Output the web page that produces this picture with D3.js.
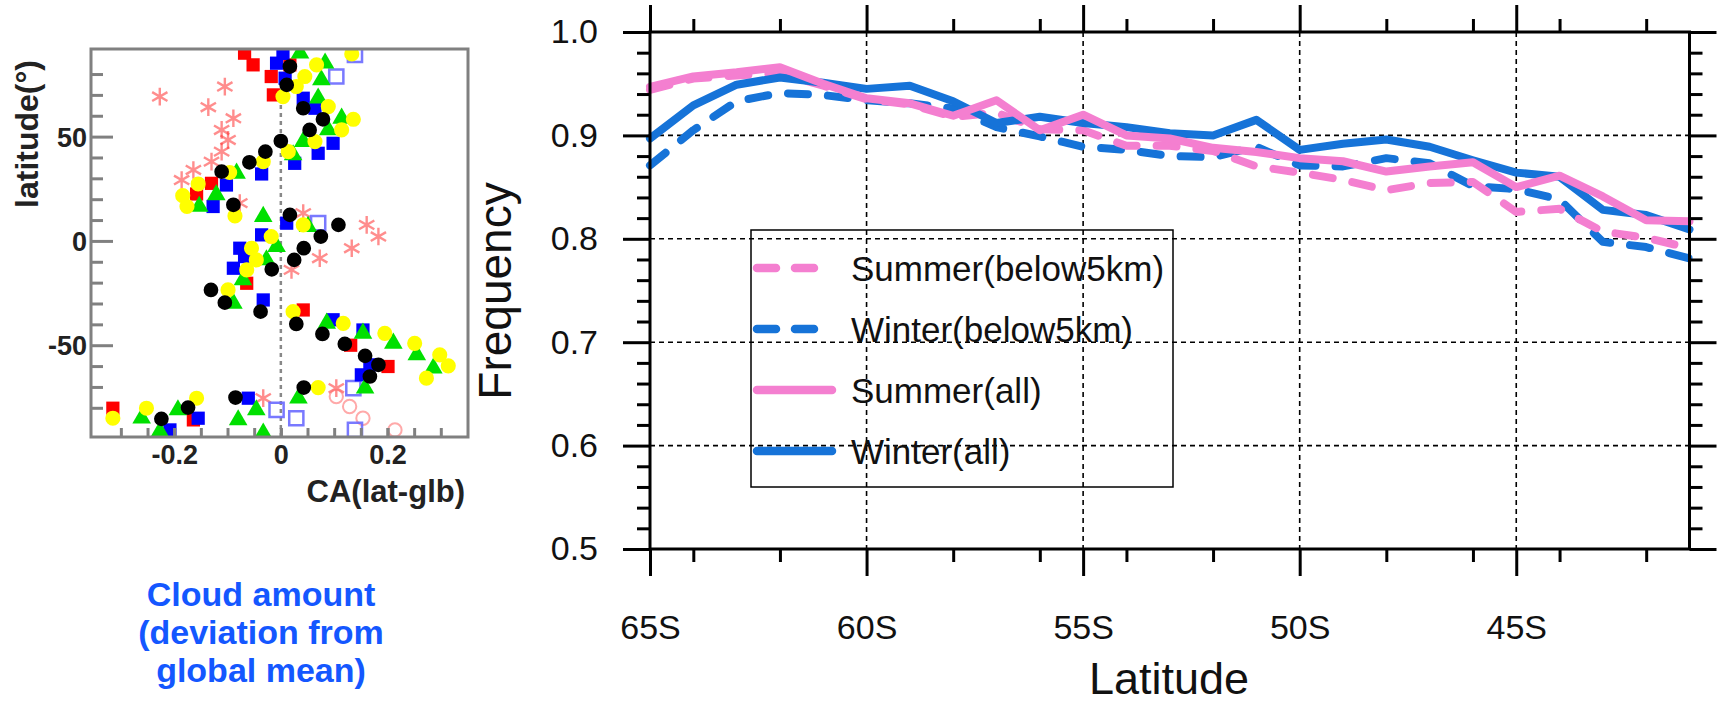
<!DOCTYPE html>
<html><head><meta charset="utf-8">
<script src="https://cdn.jsdelivr.net/npm/d3@7"></script>
<style>
body{margin:0;background:#fff}
svg{display:block}
text{font-family:"Liberation Sans",Arial,Helvetica,sans-serif}
</style>
</head><body>
<svg id="c" width="1727" height="705"></svg>
<script>
// ---------------- Right panel data ----------------
const latitudes = [-65,-64,-63,-62,-61,-60,-59,-58,-57,-56,-55,-54,-53,-52,-51,-50,-49,-48,-47,-46,-45,-44,-43,-42,-41];
const summerBelow5km = [0.944,0.955,0.958,0.960,0.948,0.935,0.930,0.918,0.922,0.906,0.905,0.890,0.890,0.885,0.870,0.864,0.857,0.847,0.854,0.855,0.826,0.829,0.807,0.801,0.791];
const winterBelow5km = [0.871,0.905,0.933,0.941,0.939,0.934,0.931,0.926,0.908,0.899,0.889,0.886,0.880,0.879,0.889,0.871,0.870,0.878,0.873,0.851,0.848,0.838,0.797,0.792,0.781];
const summerAll      = [0.947,0.957,0.961,0.966,0.950,0.936,0.931,0.919,0.934,0.905,0.920,0.900,0.897,0.888,0.884,0.878,0.875,0.865,0.870,0.874,0.850,0.861,0.841,0.818,0.817];
const winterAll      = [0.897,0.929,0.949,0.956,0.951,0.945,0.948,0.933,0.912,0.918,0.912,0.908,0.902,0.900,0.915,0.886,0.892,0.896,0.889,0.876,0.864,0.860,0.828,0.823,0.809];
const latMajorTicks = [-65,-60,-55,-50,-45];
const latTickLabels = ["65S","60S","55S","50S","45S"];
const latMinorTicks = [-64,-62,-58,-56,-54,-52,-48,-46,-44,-42];
const freqMajorTicks = [0.5,0.6,0.7,0.8,0.9,1.0];
const freqTickLabels = ["0.5","0.6","0.7","0.8","0.9","1.0"];
const freqMinorTicks = [0.52,0.54,0.56,0.58,0.62,0.64,0.66,0.68,0.72,0.74,0.76,0.78,0.82,0.84,0.86,0.88,0.92,0.94,0.96,0.98];
const freqGrid = [0.6,0.7,0.8,0.9];
const latGrid = [-60,-55,-50,-45];
const seriesNames = ["Summer(below5km)","Winter(below5km)","Summer(all)","Winter(all)"];

// ---------------- Left panel data (CA deviation, latitude) ----------------
const blackCircles = [[0.017,83.6],[0.011,74.8],[0.042,63.6],[0.079,58.3],[0.054,53.2],[0.000,47.9],[-0.029,42.8],[-0.059,37.7],[-0.111,33.2],[-0.089,17.3],[0.017,12.5],[0.108,7.7],[0.075,2.1],[0.043,-3.5],[0.025,-9.1],[-0.017,-13.6],[-0.131,-23.5],[-0.105,-29.6],[-0.038,-33.9],[0.029,-39.8],[0.078,-44.6],[0.120,-49.4],[0.158,-55.1],[0.183,-59.4],[0.167,-65.0],[0.043,-70.3],[-0.085,-75.1],[-0.174,-79.9],[-0.224,-85.3]];
const yellowCircles = [[0.133,89.6],[0.067,84.4],[0.045,78.8],[0.029,74.0],[0.004,69.2],[0.089,64.4],[0.136,58.3],[0.114,53.2],[0.064,47.6],[0.014,42.8],[-0.033,38.0],[-0.096,32.8],[-0.155,27.3],[-0.184,21.7],[-0.176,16.5],[-0.086,12.0],[0.042,7.7],[-0.018,2.1],[-0.055,-3.5],[-0.046,-9.1],[-0.064,-13.9],[-0.099,-23.5],[0.023,-33.9],[0.117,-39.5],[0.195,-44.3],[0.251,-49.1],[0.298,-54.6],[0.314,-59.9],[0.273,-65.8],[0.070,-70.3],[-0.158,-75.4],[-0.252,-80.2],[-0.315,-85.0]];
const blueSquares = [[0.004,89.9],[-0.008,85.2],[0.008,78.0],[0.042,68.4],[0.064,63.6],[0.098,46.8],[0.070,42.0],[0.026,37.2],[-0.036,32.1],[-0.102,26.8],[-0.127,16.5],[0.011,8.5],[-0.036,2.9],[-0.077,-3.5],[-0.068,-7.5],[-0.089,-13.1],[-0.033,-28.3],[0.098,-37.8],[0.154,-42.7],[0.167,-59.4],[0.151,-64.2],[-0.061,-75.4],[-0.155,-85.0],[-0.208,-90.6]];
const greenTriangles = [[0.036,90.0],[0.083,85.2],[0.076,77.2],[0.070,68.4],[0.114,58.8],[0.089,53.2],[0.042,47.6],[0.023,41.2],[-0.083,32.4],[-0.121,22.1],[-0.153,16.5],[-0.033,11.7],[0.051,6.9],[-0.008,-2.7],[-0.027,-9.1],[-0.071,-18.7],[-0.089,-29.9],[0.086,-39.5],[0.154,-44.3],[0.211,-49.1],[0.255,-54.6],[0.286,-61.0],[0.158,-70.6],[0.033,-75.4],[-0.046,-81.0],[-0.080,-85.8],[-0.193,-81.0],[-0.261,-85.0],[-0.227,-91.4],[-0.033,-92.2]];
const redSquares = [[-0.068,90.0],[-0.052,84.4],[0.017,84.4],[-0.018,78.8],[-0.014,70.0],[-0.130,27.6],[-0.158,22.5],[-0.064,-20.3],[0.042,-33.1],[0.131,-50.0],[0.201,-60.2],[-0.315,-80.2],[-0.164,-85.8]];
const redStars = [[-0.227,69.2],[-0.105,74.0],[-0.136,64.1],[-0.089,58.8],[-0.111,53.2],[-0.099,48.4],[-0.111,42.8],[-0.130,38.0],[-0.164,34.0],[-0.186,29.2],[-0.077,18.1],[0.042,13.3],[0.161,7.7],[0.183,2.1],[0.133,-3.5],[0.073,-8.3],[0.020,-13.9],[-0.033,-75.4],[0.104,-70.6]];
const blueOpenSquares = [[0.139,89.2],[0.104,78.8],[0.070,8.5],[0.136,-70.6],[-0.008,-81.0],[0.029,-85.0],[0.139,-90.6]];
const redOpenCircles = [[0.104,-74.6],[0.129,-79.4],[0.154,-85.0],[0.214,-90.6]];
const caTicks = [-0.3,-0.25,-0.2,-0.15,-0.1,-0.05,0,0.05,0.1,0.15,0.2,0.25,0.3];
const caLabelTicks = [-0.2,0,0.2];
const caTickLabels = ["-0.2","0","0.2"];
const latMinorLeft = [-80,-70,-60,-40,-30,-20,-10,10,20,30,40,60,70,80];
const latMajorLeft = [-50,0,50];
const latLeftLabels = ["-50","0","50"];
const captionLines = ["Cloud amount","(deviation from","global mean)"];

const svg = d3.select("#c");

// ================= LEFT PANEL =================
const xL = d3.scaleLinear().domain([-0.356,0.351]).range([91,468]);
const yL = d3.scaleLinear().domain([-94,92]).range([437,49]);
const gL = svg.append("g");
svg.append("defs").append("clipPath").attr("id","clipL")
  .append("rect").attr("x",91).attr("y",49).attr("width",377).attr("height",388);

gL.append("line").attr("x1",xL(0)).attr("x2",xL(0)).attr("y1",49).attr("y2",437)
  .attr("stroke","#888").attr("stroke-width",2.5).attr("stroke-dasharray","4,4");

const markers = gL.append("g").attr("clip-path","url(#clipL)");
const scatterSeries = [
  {data:redStars, type:d3.symbolAsterisk, size:220, fill:"none", stroke:"#ff3030", sw:2.4, op:0.55},
  {data:redOpenCircles, type:d3.symbolCircle, size:140, fill:"none", stroke:"#ff7070", sw:2, op:0.6},
  {data:blueOpenSquares, type:d3.symbolSquare, size:200, fill:"none", stroke:"#6a6aff", sw:2.5, op:0.9},
  {data:redSquares, type:d3.symbolSquare, size:175, fill:"#ff0000", stroke:"none", sw:0, op:1},
  {data:blueSquares, type:d3.symbolSquare, size:175, fill:"#0000ff", stroke:"none", sw:0, op:1},
  {data:greenTriangles, type:d3.symbolTriangle, size:150, fill:"#00e000", stroke:"none", sw:0, op:1},
  {data:yellowCircles, type:d3.symbolCircle, size:180, fill:"#ffff00", stroke:"none", sw:0, op:1},
  {data:blackCircles, type:d3.symbolCircle, size:170, fill:"#000000", stroke:"none", sw:0, op:1}
];
scatterSeries.forEach(s => {
  markers.selectAll(null).data(s.data).enter().append("path")
    .attr("d", d3.symbol().type(s.type).size(s.size))
    .attr("transform", d => `translate(${xL(d[0])},${yL(d[1])})`)
    .attr("fill", s.fill).attr("stroke", s.stroke).attr("stroke-width", s.sw).attr("opacity", s.op);
});

// left axes
const axL1 = d3.axisLeft(yL).tickValues(latMinorLeft).tickSizeInner(-12).tickSizeOuter(0).tickFormat("");
const axL2 = d3.axisLeft(yL).tickValues(latMajorLeft).tickSizeInner(-22).tickSizeOuter(0).tickPadding(4)
  .tickFormat((d,i) => latLeftLabels[i]);
[axL1, axL2].forEach(ax => {
  const g = gL.append("g").attr("transform","translate(91,0)").call(ax);
  g.select(".domain").remove();
  g.selectAll("line").attr("stroke","#808080").attr("stroke-width",3);
  g.selectAll("text").attr("font-size",27).attr("font-weight","bold").attr("fill","#222").attr("dy","0.36em");
});
const axB1 = d3.axisBottom(xL).tickValues(caTicks).tickSizeInner(-9).tickSizeOuter(0).tickFormat("");
const axB2 = d3.axisBottom(xL).tickValues(caLabelTicks).tickSizeInner(-9).tickSizeOuter(0).tickPadding(8)
  .tickFormat((d,i) => caTickLabels[i]);
[axB1, axB2].forEach(ax => {
  const g = gL.append("g").attr("transform","translate(0,437)").call(ax);
  g.select(".domain").remove();
  g.selectAll("line").attr("stroke","#808080").attr("stroke-width",3);
  g.selectAll("text").attr("font-size",27).attr("font-weight","bold").attr("fill","#222");
});
gL.append("rect").attr("x",91).attr("y",49).attr("width",377).attr("height",388)
  .attr("fill","none").attr("stroke","#808080").attr("stroke-width",3);

gL.append("text").attr("x",465).attr("y",502).attr("text-anchor","end")
  .attr("font-size",31).attr("font-weight","bold").attr("fill","#222").text("CA(lat-glb)");
gL.append("text").attr("transform","translate(38,134) rotate(-90)").attr("text-anchor","middle")
  .attr("font-size",32).attr("font-weight","bold").attr("fill","#222").text("latitude(°)");

const cap = svg.append("g");
cap.selectAll("text").data(captionLines).enter().append("text")
  .attr("x",261).attr("y",(d,i)=>606+i*38).attr("text-anchor","middle")
  .attr("font-size",34).attr("font-weight","bold").attr("fill","#1457ff").text(d=>d);

// ================= RIGHT PANEL =================
const xR = d3.scaleLinear().domain([-65,-41]).range([650,1689.5]);
const yR = d3.scaleLinear().domain([0.5,1.0]).range([549,32]);
const gR = svg.append("g");

// grid
gR.selectAll(null).data(freqGrid).enter().append("line")
  .attr("x1",650).attr("x2",1689.5).attr("y1",d=>yR(d)).attr("y2",d=>yR(d))
  .attr("stroke","#000").attr("stroke-width",1.6).attr("stroke-dasharray","5,4");
gR.selectAll(null).data(latGrid).enter().append("line")
  .attr("y1",32).attr("y2",549).attr("x1",d=>xR(d)).attr("x2",d=>xR(d))
  .attr("stroke","#000").attr("stroke-width",1.6).attr("stroke-dasharray","5,4");

// lines
const lineGen = d3.line().x((d,i)=>xR(latitudes[i])).y(d=>yR(d));
const pink = "#f47fd0", blue = "#1673d8";
const lineSeries = [
  {vals:winterBelow5km, color:blue, dash:"20,20"},
  {vals:summerBelow5km, color:pink, dash:"20,20"},
  {vals:winterAll, color:blue, dash:null},
  {vals:summerAll, color:pink, dash:null}
];
lineSeries.forEach(s => {
  gR.append("path").datum(s.vals).attr("d",lineGen).attr("fill","none")
    .attr("stroke",s.color).attr("stroke-width",8).attr("stroke-linejoin","round").attr("stroke-linecap","round")
    .attr("stroke-dasharray",s.dash);
});

// axes
function styleAx(g){
  g.select(".domain").remove();
  g.selectAll("line").attr("stroke","#000").attr("stroke-width",3);
  g.selectAll("text").attr("font-size",34).attr("fill","#111");
}
styleAx(gR.append("g").attr("transform","translate(0,549)")
  .call(d3.axisBottom(xR).tickValues(latMajorTicks).tickSize(27).tickPadding(39).tickFormat((d,i)=>latTickLabels[i])));
styleAx(gR.append("g").attr("transform","translate(0,549)")
  .call(d3.axisBottom(xR).tickValues(latMinorTicks).tickSize(13).tickFormat("")));
styleAx(gR.append("g").attr("transform","translate(0,32)")
  .call(d3.axisTop(xR).tickValues(latMajorTicks).tickSize(27).tickFormat("")));
styleAx(gR.append("g").attr("transform","translate(0,32)")
  .call(d3.axisTop(xR).tickValues(latMinorTicks).tickSize(13).tickFormat("")));
styleAx(gR.append("g").attr("transform","translate(650,0)")
  .call(d3.axisLeft(yR).tickValues(freqMajorTicks).tickSize(27).tickPadding(25).tickFormat((d,i)=>freqTickLabels[i])));
styleAx(gR.append("g").attr("transform","translate(650,0)")
  .call(d3.axisLeft(yR).tickValues(freqMinorTicks).tickSize(13).tickFormat("")));
styleAx(gR.append("g").attr("transform","translate(1689.5,0)")
  .call(d3.axisRight(yR).tickValues(freqMajorTicks).tickSize(27).tickFormat("")));
styleAx(gR.append("g").attr("transform","translate(1689.5,0)")
  .call(d3.axisRight(yR).tickValues(freqMinorTicks).tickSize(13).tickFormat("")));
gR.append("rect").attr("x",650).attr("y",32).attr("width",1039.5).attr("height",517)
  .attr("fill","none").attr("stroke","#000").attr("stroke-width",3);

// axis titles
gR.append("text").attr("transform","translate(511,291) rotate(-90)").attr("text-anchor","middle")
  .attr("font-size",46).attr("fill","#111").text("Frequency");
gR.append("text").attr("x",1169).attr("y",694).attr("text-anchor","middle")
  .attr("font-size",45).attr("fill","#111").text("Latitude");

// legend
const legend = gR.append("g");
legend.append("rect").attr("x",751).attr("y",230).attr("width",422).attr("height",257)
  .attr("fill","none").attr("stroke","#000").attr("stroke-width",1.5);
const legendItems = [
  {name:seriesNames[0], color:pink, dash:"19,19", len:65, y:268},
  {name:seriesNames[1], color:blue, dash:"19,19", len:65, y:329},
  {name:seriesNames[2], color:pink, dash:null, len:83, y:390},
  {name:seriesNames[3], color:blue, dash:null, len:83, y:451}
];
legendItems.forEach(it => {
  legend.append("line").attr("x1",757).attr("x2",757+it.len-8).attr("y1",it.y).attr("y2",it.y)
    .attr("stroke",it.color).attr("stroke-width",8.5).attr("stroke-linecap","round").attr("stroke-dasharray",it.dash);
  legend.append("text").attr("x",851).attr("y",it.y).attr("dy","0.36em")
    .attr("font-size",35).attr("fill","#111").text(it.name);
});
</script>
</body></html>
